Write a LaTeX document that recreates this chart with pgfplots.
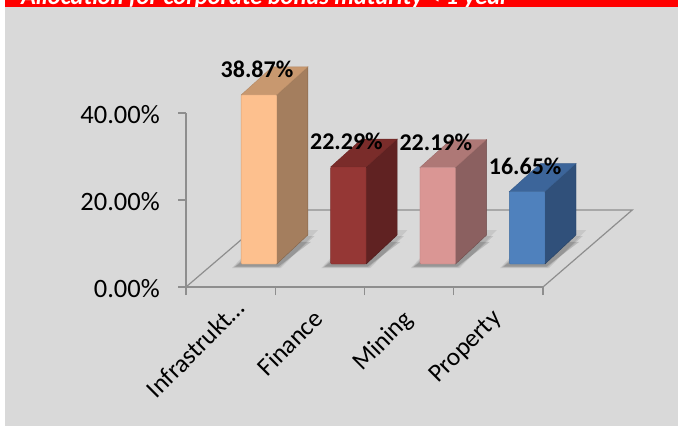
\documentclass[border=0pt]{standalone}
\usepackage{pgfplots}
\usepackage{pgfplotstable}
\pgfplotsset{compat=1.18}
\usepackage{fontspec}
\setmainfont{Carlito}
\definecolor{bg}{HTML}{D9D9D9}
\definecolor{axisgray}{HTML}{8E8E8E}
\definecolor{fa}{HTML}{FDC08E}\definecolor{sa}{HTML}{A47E5E}\definecolor{ta}{HTML}{C8986F}
\definecolor{fb}{HTML}{953735}\definecolor{sb}{HTML}{602222}\definecolor{tb}{HTML}{7A2C2A}
\definecolor{fc}{HTML}{DA9694}\definecolor{sc}{HTML}{8B6060}\definecolor{tc}{HTML}{AE7876}
\definecolor{fd}{HTML}{4F81BD}\definecolor{sd}{HTML}{30507A}\definecolor{td}{HTML}{3C659A}
\newcommand{\infralabel}{Infrastrukt…\hspace{-15pt}\mbox{}}
\pgfplotstableread{
x y
-0.302 -0.92
0.246 -0.92
0.66 7.8
0.1 7.8
}\shadowshape
\newcommand{\shadowbar}[1]{%
\addplot[draw=none,fill=black,fill opacity=0.08,forget plot] table[x expr=\thisrow{x}+#1,y=y]{\shadowshape} -- cycle;
\addplot[draw=none,fill=black,fill opacity=0.11,forget plot] table[x expr=\thisrow{x}*0.94+#1,y expr=\thisrow{y}*0.82]{\shadowshape} -- cycle;
\addplot[draw=none,fill=black,fill opacity=0.15,forget plot] table[x expr=\thisrow{x}*0.88+#1,y expr=\thisrow{y}*0.65]{\shadowshape} -- cycle;
}
\begin{document}
\begin{tikzpicture}[x=1pt,y=1pt]
\useasboundingbox (0,0) rectangle (678,426);
\fill[white] (0,0) rectangle (678,426);
\fill[bg] (5,0) rectangle (678,426);
\fill[red] (5,419) rectangle (678,426);
\begin{scope}
\clip (5,419) rectangle (678,426);
\node[anchor=base west,text=white,font=\bfseries\itshape\fontsize{24.4}{24.4}\selectfont,inner sep=0pt] at (21,421) {Allocation for corporate bonus maturity < 1 year};
\end{scope}
% axis with ticks and floor
\begin{axis}[
  at={(186pt,139pt)},anchor=south west,
  scale only axis,width=357pt,height=174pt,
  xmin=-0.5,xmax=3.5,ymin=0,ymax=40,
  clip=false,
  axis x line=bottom,axis y line=left,
  axis line style={axisgray,line width=1.4pt,-},
  every tick/.style={axisgray,line width=1.4pt},
  tick align=outside,major tick length=8pt,
  ytick={0,20,40},
  xtick={-0.5,0.5,1.5,2.5,3.5},
  xticklabels={},
  extra x ticks={0,1,2,3},
  extra x tick labels={\infralabel,Finance,Mining,Property},
  extra x tick style={major tick length=0pt,
    tick label style={rotate=45,anchor=north east,xshift=-17pt,yshift=-6pt,font=\fontsize{25.5}{25.5}\selectfont}},
  tick label style={font=\fontsize{26.5}{26.5}\selectfont,text=black},
  yticklabel style={/pgf/number format/fixed,/pgf/number format/fixed zerofill,/pgf/number format/precision=2,/pgf/number format/assume math mode=true},
  yticklabel={\pgfmathprintnumber{\tick}\%},
  y tick label style={inner sep=0pt,xshift=-18pt,yshift=-1.5pt},
]
\addplot[axisgray,line width=1.2pt,forget plot] coordinates {(-0.5,0) (0.508,17.7) (4.5,17.7) (3.5,0)};
\end{axis}
% axis with bars: value 0 on the floor where the bars stand
\begin{axis}[
  at={(0pt,0pt)},anchor=south west,
  scale only axis,width=678pt,height=426pt,
  xmin=-2.897,xmax=4.687,ymin=-37.24,ymax=60.69,
  hide axis,clip=false,
]
\shadowbar{0}\shadowbar{1}\shadowbar{2}\shadowbar{3}
% sides
\addplot[fill=sa,draw=sa!80!black,forget plot] coordinates {(0.199,0) (0.546,6.67) (0.546,45.3) (0.199,38.87)} -- cycle;
\addplot[fill=ta,draw=ta!90!black,forget plot] coordinates {(-0.199,38.87) (0.148,45.3) (0.546,45.3) (0.199,38.87)} -- cycle;
\addplot[fill=sb,draw=sb!80!black,forget plot] coordinates {(1.199,0) (1.546,6.67) (1.546,28.72) (1.199,22.29)} -- cycle;
\addplot[fill=tb,draw=tb!90!black,forget plot] coordinates {(0.801,22.29) (1.148,28.72) (1.546,28.72) (1.199,22.29)} -- cycle;
\addplot[fill=sc,draw=sc!80!black,forget plot] coordinates {(2.199,0) (2.546,6.67) (2.546,28.62) (2.199,22.19)} -- cycle;
\addplot[fill=tc,draw=tc!90!black,forget plot] coordinates {(1.801,22.19) (2.148,28.62) (2.546,28.62) (2.199,22.19)} -- cycle;
\addplot[fill=sd,draw=sd!80!black,forget plot] coordinates {(3.199,0) (3.546,6.67) (3.546,23.08) (3.199,16.65)} -- cycle;
\addplot[fill=td,draw=td!90!black,forget plot] coordinates {(2.801,16.65) (3.148,23.08) (3.546,23.08) (3.199,16.65)} -- cycle;
% fronts with value labels
\pgfplotsset{frontbar/.style={ybar,bar width=35.6pt,bar shift=0pt,draw=#1!85!black,fill=#1,rounded corners=1pt,
  nodes near coords={\pgfmathprintnumber[fixed,fixed zerofill,precision=2,assume math mode=true]{\pgfplotspointmeta}\%},
  every node near coord/.style={anchor=center,xshift=-2pt,yshift=25.5pt,text=black,font=\bfseries\fontsize{24}{24}\selectfont,inner sep=0pt}}}
\addplot[frontbar=fa] coordinates {(0,38.87)};
\addplot[frontbar=fb] coordinates {(1,22.29)};
\addplot[frontbar=fc] coordinates {(2,22.19)};
\addplot[frontbar=fd] coordinates {(3,16.65)};
\end{axis}
\end{tikzpicture}
\end{document}
